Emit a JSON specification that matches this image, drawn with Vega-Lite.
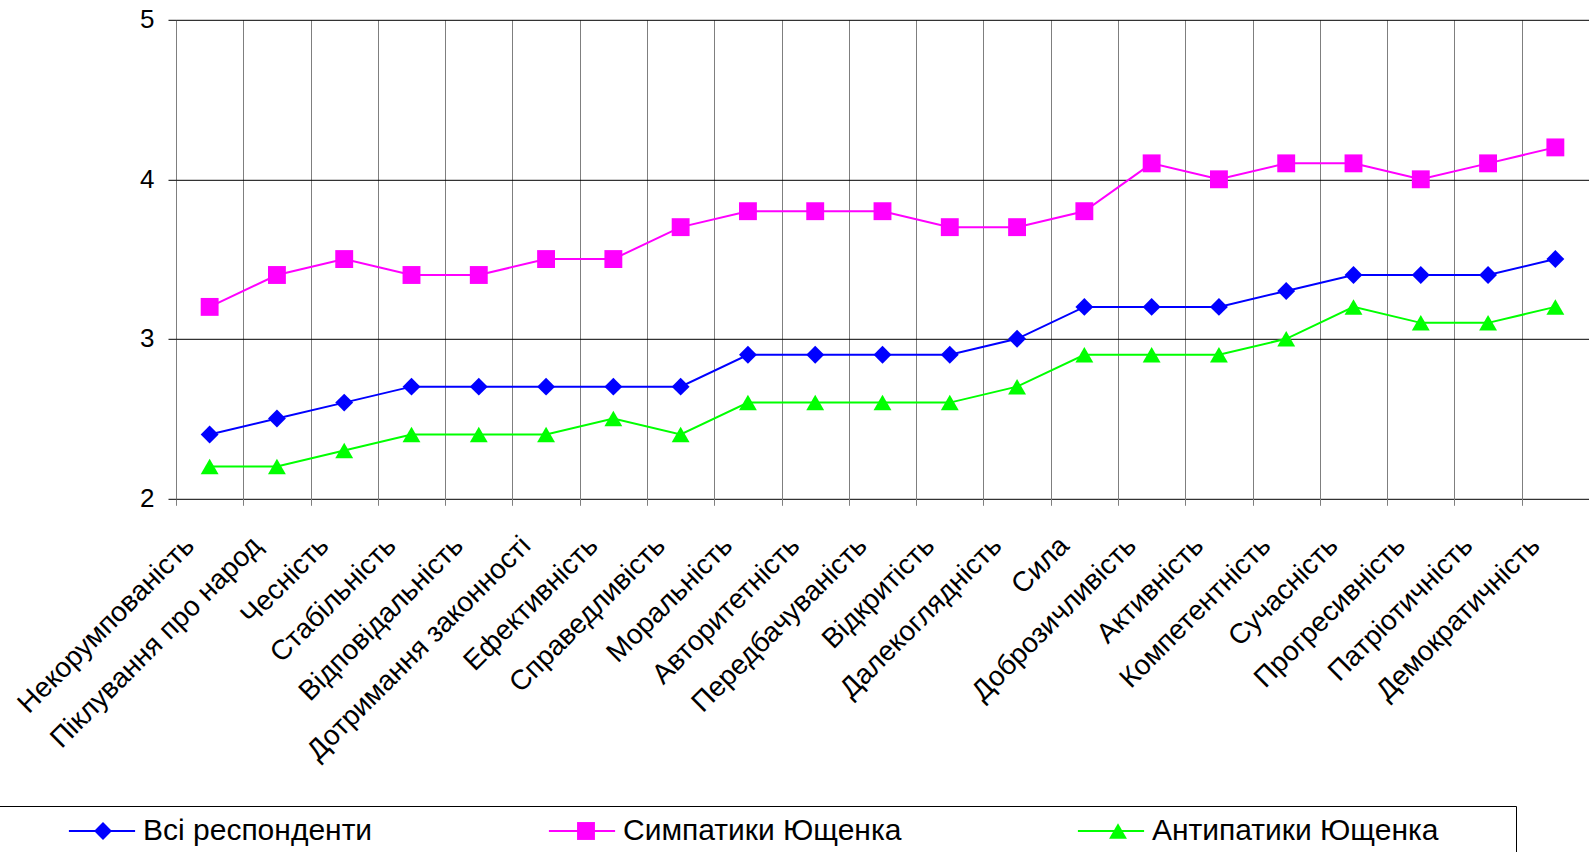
{
  "$schema": "https://vega.github.io/schema/vega-lite/v6.json",
  "autosize": "none",
  "width": 1413,
  "height": 478.5,
  "padding": {"left": 176, "top": 19.8, "right": 0, "bottom": 353.7},
  "background": "white",
  "config": {
    "font": "Liberation Sans",
    "view": {"stroke": null}
  },
  "data": {
    "values": [
      {"cat": "Некорумпованість", "series": "Всі респонденти", "value": 2.4},
      {"cat": "Піклування про народ", "series": "Всі респонденти", "value": 2.5},
      {"cat": "Чесність", "series": "Всі респонденти", "value": 2.6},
      {"cat": "Стабільність", "series": "Всі респонденти", "value": 2.7},
      {"cat": "Відповідальність", "series": "Всі респонденти", "value": 2.7},
      {"cat": "Дотримання законності", "series": "Всі респонденти", "value": 2.7},
      {"cat": "Ефективність", "series": "Всі респонденти", "value": 2.7},
      {"cat": "Справедливість", "series": "Всі респонденти", "value": 2.7},
      {"cat": "Моральність", "series": "Всі респонденти", "value": 2.9},
      {"cat": "Авторитетність", "series": "Всі респонденти", "value": 2.9},
      {"cat": "Передбачуваність", "series": "Всі респонденти", "value": 2.9},
      {"cat": "Відкритість", "series": "Всі респонденти", "value": 2.9},
      {"cat": "Далекоглядність", "series": "Всі респонденти", "value": 3.0},
      {"cat": "Сила", "series": "Всі респонденти", "value": 3.2},
      {"cat": "Доброзичливість", "series": "Всі респонденти", "value": 3.2},
      {"cat": "Активність", "series": "Всі респонденти", "value": 3.2},
      {"cat": "Компетентність", "series": "Всі респонденти", "value": 3.3},
      {"cat": "Сучасність", "series": "Всі респонденти", "value": 3.4},
      {"cat": "Прогресивність", "series": "Всі респонденти", "value": 3.4},
      {"cat": "Патріотичність", "series": "Всі респонденти", "value": 3.4},
      {"cat": "Демократичність", "series": "Всі респонденти", "value": 3.5},
      {"cat": "Некорумпованість", "series": "Симпатики Ющенка", "value": 3.2},
      {"cat": "Піклування про народ", "series": "Симпатики Ющенка", "value": 3.4},
      {"cat": "Чесність", "series": "Симпатики Ющенка", "value": 3.5},
      {"cat": "Стабільність", "series": "Симпатики Ющенка", "value": 3.4},
      {"cat": "Відповідальність", "series": "Симпатики Ющенка", "value": 3.4},
      {"cat": "Дотримання законності", "series": "Симпатики Ющенка", "value": 3.5},
      {"cat": "Ефективність", "series": "Симпатики Ющенка", "value": 3.5},
      {"cat": "Справедливість", "series": "Симпатики Ющенка", "value": 3.7},
      {"cat": "Моральність", "series": "Симпатики Ющенка", "value": 3.8},
      {"cat": "Авторитетність", "series": "Симпатики Ющенка", "value": 3.8},
      {"cat": "Передбачуваність", "series": "Симпатики Ющенка", "value": 3.8},
      {"cat": "Відкритість", "series": "Симпатики Ющенка", "value": 3.7},
      {"cat": "Далекоглядність", "series": "Симпатики Ющенка", "value": 3.7},
      {"cat": "Сила", "series": "Симпатики Ющенка", "value": 3.8},
      {"cat": "Доброзичливість", "series": "Симпатики Ющенка", "value": 4.1},
      {"cat": "Активність", "series": "Симпатики Ющенка", "value": 4.0},
      {"cat": "Компетентність", "series": "Симпатики Ющенка", "value": 4.1},
      {"cat": "Сучасність", "series": "Симпатики Ющенка", "value": 4.1},
      {"cat": "Прогресивність", "series": "Симпатики Ющенка", "value": 4.0},
      {"cat": "Патріотичність", "series": "Симпатики Ющенка", "value": 4.1},
      {"cat": "Демократичність", "series": "Симпатики Ющенка", "value": 4.2},
      {"cat": "Некорумпованість", "series": "Антипатики Ющенка", "value": 2.2},
      {"cat": "Піклування про народ", "series": "Антипатики Ющенка", "value": 2.2},
      {"cat": "Чесність", "series": "Антипатики Ющенка", "value": 2.3},
      {"cat": "Стабільність", "series": "Антипатики Ющенка", "value": 2.4},
      {"cat": "Відповідальність", "series": "Антипатики Ющенка", "value": 2.4},
      {"cat": "Дотримання законності", "series": "Антипатики Ющенка", "value": 2.4},
      {"cat": "Ефективність", "series": "Антипатики Ющенка", "value": 2.5},
      {"cat": "Справедливість", "series": "Антипатики Ющенка", "value": 2.4},
      {"cat": "Моральність", "series": "Антипатики Ющенка", "value": 2.6},
      {"cat": "Авторитетність", "series": "Антипатики Ющенка", "value": 2.6},
      {"cat": "Передбачуваність", "series": "Антипатики Ющенка", "value": 2.6},
      {"cat": "Відкритість", "series": "Антипатики Ющенка", "value": 2.6},
      {"cat": "Далекоглядність", "series": "Антипатики Ющенка", "value": 2.7},
      {"cat": "Сила", "series": "Антипатики Ющенка", "value": 2.9},
      {"cat": "Доброзичливість", "series": "Антипатики Ющенка", "value": 2.9},
      {"cat": "Активність", "series": "Антипатики Ющенка", "value": 2.9},
      {"cat": "Компетентність", "series": "Антипатики Ющенка", "value": 3.0},
      {"cat": "Сучасність", "series": "Антипатики Ющенка", "value": 3.2},
      {"cat": "Прогресивність", "series": "Антипатики Ющенка", "value": 3.1},
      {"cat": "Патріотичність", "series": "Антипатики Ющенка", "value": 3.1},
      {"cat": "Демократичність", "series": "Антипатики Ющенка", "value": 3.2}
    ]
  },
  "encoding": {
    "x": {
      "field": "cat",
      "type": "nominal",
      "sort": null,
      "scale": {"type": "band", "paddingInner": 0, "paddingOuter": 0},
      "axis": {
        "title": null,
        "tickBand": "extent",
        "grid": true,
        "gridColor": "#7f7f7f",
        "gridWidth": 1,
        "domain": false,
        "ticks": true,
        "tickColor": "#7f7f7f",
        "tickSize": 7,
        "labelAngle": -45,
        "labelAlign": "right",
        "labelBaseline": "middle",
        "labelFontSize": 28,
        "labelColor": "#000",
        "labelPadding": 36,
        "labelOffset": -20,
        "labelLimit": 1000,
        "labelOverlap": false
      }
    },
    "y": {
      "field": "value",
      "type": "quantitative",
      "scale": {"domain": [2, 5], "nice": false, "zero": false},
      "axis": {
        "title": null,
        "values": [2, 3, 4, 5],
        "grid": true,
        "gridColor": "#000",
        "gridWidth": 1,
        "domain": false,
        "tickColor": "#000",
        "tickSize": 8,
        "labelFontSize": 26,
        "labelColor": "#000",
        "labelPadding": 14
      }
    },
    "color": {
      "field": "series",
      "type": "nominal",
      "scale": {
        "domain": ["Всі респонденти", "Симпатики Ющенка", "Антипатики Ющенка"],
        "range": ["#0000ff", "#ff00ff", "#00ff00"]
      }
    }
  },
  "layer": [
    {
      "mark": {"type": "line", "strokeWidth": 2},
      "encoding": {
        "color": {
          "field": "series",
          "type": "nominal",
          "scale": {
            "domain": ["Всі респонденти", "Симпатики Ющенка", "Антипатики Ющенка"],
            "range": ["#0000ff", "#ff00ff", "#00ff00"]
          },
          "legend": {
            "orient": "none",
            "legendX": -181,
            "legendY": 786.2,
            "direction": "horizontal",
            "columns": 3,
            "columnPadding": 171,
            "padding": 10,
            "title": "\u00a0",
            "titleOrient": "left",
            "titleFontSize": 1,
            "titlePadding": 59,
            "symbolType": "M-3.7,0H3.7",
            "symbolSize": 320,
            "symbolStrokeWidth": 2,
            "symbolOffset": 23,
            "labelOffset": 26,
            "labelFontSize": 30,
            "labelColor": "#000",
            "labelLimit": 1000
          }
        }
      }
    },
    {
      "mark": {"type": "point", "filled": true, "opacity": 1, "size": 320},
      "encoding": {
        "shape": {
          "field": "series",
          "type": "nominal",
          "scale": {
            "domain": ["Всі респонденти", "Симпатики Ющенка", "Антипатики Ющенка"],
            "range": ["diamond", "square", "triangle-up"]
          },
          "legend": {
            "orient": "none",
            "legendX": -181,
            "legendY": 786.2,
            "direction": "horizontal",
            "columns": 3,
            "columnPadding": 171,
            "padding": 10,
            "strokeColor": "#000",
            "title": "\u00a0",
            "titleOrient": "left",
            "titleFontSize": 1,
            "titlePadding": 59,
            "symbolSize": 320,
            "symbolStrokeWidth": 0,
            "symbolOffset": 24,
            "labelOffset": 28,
            "labelFontSize": 30,
            "labelOpacity": 0,
            "labelLimit": 1000,
            "labelExpr": "datum.label == 'Антипатики Ющенка' ? datum.label + '000.' : datum.label"
          }
        },
        "color": {
          "field": "series",
          "type": "nominal",
          "scale": {
            "domain": ["Всі респонденти", "Симпатики Ющенка", "Антипатики Ющенка"],
            "range": ["#0000ff", "#ff00ff", "#00ff00"]
          },
          "legend": {
            "orient": "none",
            "legendX": -181,
            "legendY": 786.2,
            "direction": "horizontal",
            "columns": 3,
            "columnPadding": 171,
            "padding": 10,
            "strokeColor": "#000",
            "title": "\u00a0",
            "titleOrient": "left",
            "titleFontSize": 1,
            "titlePadding": 59,
            "symbolSize": 320,
            "symbolStrokeWidth": 0,
            "symbolOffset": 24,
            "labelOffset": 28,
            "labelFontSize": 30,
            "labelOpacity": 0,
            "labelLimit": 1000,
            "labelExpr": "datum.label == 'Антипатики Ющенка' ? datum.label + '000.' : datum.label"
          }
        }
      }
    }
  ],
  "resolve": {"legend": {"color": "independent", "shape": "independent"}}
}
